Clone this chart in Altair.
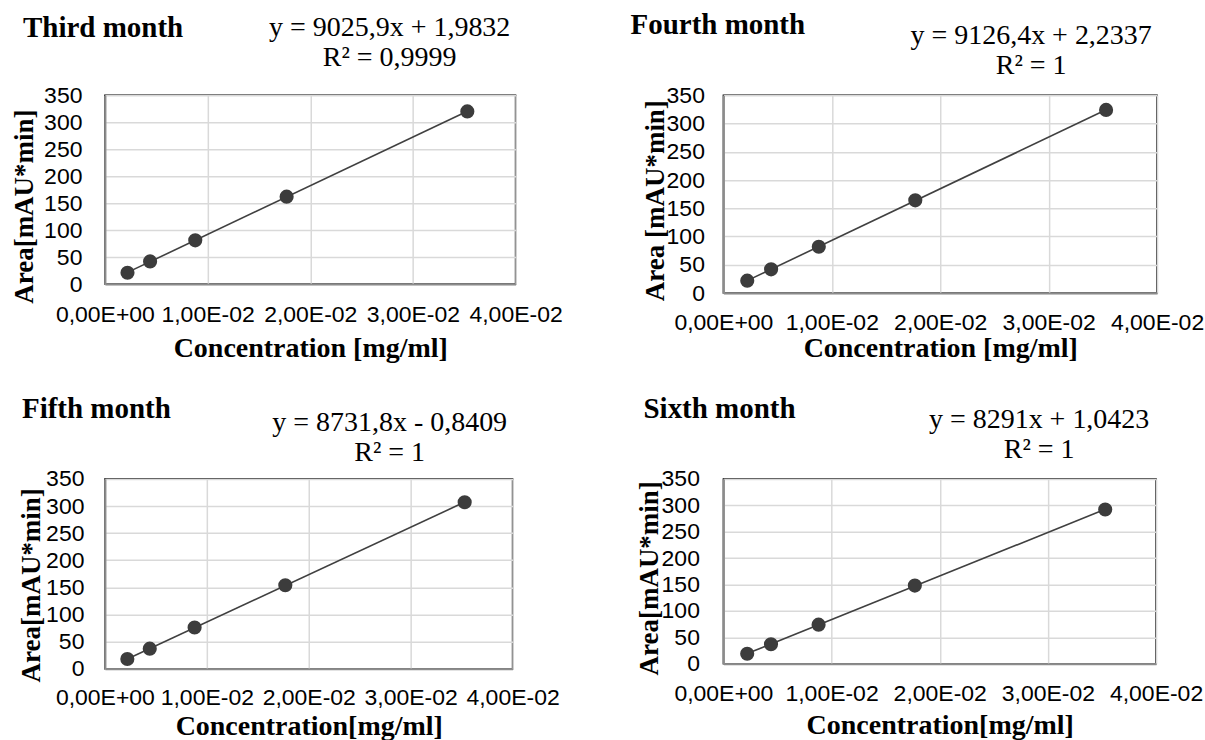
import json
import altair as alt
import pandas as pd

# ---- data ----
months = ["Third month", "Fourth month", "Fifth month", "Sixth month"]
concentration = [0.0022, 0.0044, 0.0088, 0.0177, 0.0353]
area_third = [21, 42, 81, 162, 320]
area_fourth = [22, 42, 82, 164, 324]
area_fifth = [18, 37, 76, 154, 307]
area_sixth = [19, 37, 74, 148, 292]
equations = [
    "y = 9025,9x + 1,9832\nR² = 0,9999",
    "y = 9126,4x + 2,2337\nR² = 1",
    "y = 8731,8x - 0,8409\nR² = 1",
    "y = 8291x + 1,0423\nR² = 1",
]
y_titles = ["Area[mAU*min]", "Area [mAU*min]", "Area[mAU*min]", "Area[mAU*min]"]
x_titles = ["Concentration [mg/ml]", "Concentration [mg/ml]",
            "Concentration[mg/ml]", "Concentration[mg/ml]"]
x_tick_values = [0, 0.01, 0.02, 0.03, 0.04]
x_tick_labels = ["0,00E+00", "1,00E-02", "2,00E-02", "3,00E-02", "4,00E-02"]
y_tick_values = [0, 50, 100, 150, 200, 250, 300, 350]
areas = [area_third, area_fourth, area_fifth, area_sixth]

# ---- layout / style (not data) ----
layout = [
    dict(w=411, h=189, tx=-82, ty=-58, ex=285, ey=-59, ytx=-72, yty=111, ylp=23, xlp=19, xty=72),
    dict(w=434, h=198, tx=-93, ty=-61, ex=308, ey=-51, ytx=-60, yty=105, ylp=19, xlp=18, xty=63),
    dict(w=408, h=190, tx=-83, ty=-61, ex=285, ey=-48, ytx=-65, yty=106, ylp=21, xlp=18, xty=66),
    dict(w=433, h=185, tx=-80, ty=-61, ex=316, ey=-51, ytx=-66, yty=99, ylp=24, xlp=19, xty=70),
]
SERIF = "Liberation Serif"
SANS = "Liberation Sans"
label_expr = json.dumps(x_tick_labels) + "[round(datum.value*100)]"


def panel(i):
    L = layout[i]
    df = pd.DataFrame({"conc": concentration, "area": areas[i]})
    x = alt.X(
        "conc:Q",
        scale=alt.Scale(domain=[0, 0.04], nice=False, zero=True),
        axis=alt.Axis(
            values=x_tick_values, labelExpr=label_expr, title=x_titles[i],
            titleFont=SERIF, titleFontWeight="bold", titleFontSize=28, titleColor="black",
            titleBaseline="alphabetic", titleY=L["xty"],
            labelFont=SANS, labelFontSize=23, labelColor="black", labelPadding=L["xlp"],
            labelOverlap=False, labelFlush=False, ticks=False, tickSize=0,
            domainColor="#8c8c8c", domainWidth=2, gridColor="#d9d9d9", gridWidth=1.5,
        ),
    )
    y = alt.Y(
        "area:Q",
        scale=alt.Scale(domain=[0, 350], nice=False),
        axis=alt.Axis(
            values=y_tick_values, title=y_titles[i],
            titleFont=SERIF, titleFontWeight="bold", titleFontSize=27, titleColor="black",
            titleBaseline="alphabetic", titleX=L["ytx"], titleY=L["yty"], titleAlign="center",
            labelFont=SANS, labelFontSize=23, labelColor="black", labelPadding=L["ylp"],
            labelOverlap=False, labelFlush=False, ticks=False, tickSize=0,
            domainColor="#8c8c8c", domainWidth=2, gridColor="#d9d9d9", gridWidth=1.5,
        ),
    )
    base = alt.Chart(df)
    line = base.transform_regression("conc", "area").mark_line(
        color="#404040", strokeWidth=1.6
    ).encode(x=x, y=y)
    pts = base.mark_circle(size=200, color="#3c3c3c", opacity=1).encode(x=x, y=y)
    ttl = alt.Chart(pd.DataFrame({"t": [months[i]]})).mark_text(
        align="left", baseline="alphabetic", font=SERIF, fontWeight="bold",
        fontSize=29, color="black"
    ).encode(text="t:N", x=alt.value(L["tx"]), y=alt.value(L["ty"]))
    eq = alt.Chart(pd.DataFrame({"t": [equations[i]]})).mark_text(
        align="center", baseline="alphabetic", font=SERIF, fontSize=28,
        color="black", lineBreak="\n", lineHeight=30
    ).encode(text="t:N", x=alt.value(L["ex"]), y=alt.value(L["ey"]))
    return alt.layer(line, pts, ttl, eq).properties(width=L["w"], height=L["h"])


chart = alt.concat(
    *[panel(i) for i in range(4)], columns=2, align="each",
    spacing={"row": 31, "column": 66},
).properties(
    padding={"left": 10, "top": 10, "right": 0, "bottom": 0},
    background="white",
).configure_view(stroke="black", strokeWidth=1.5)

chart.save("out.html", embed_options={"renderer": "svg", "actions": False})
